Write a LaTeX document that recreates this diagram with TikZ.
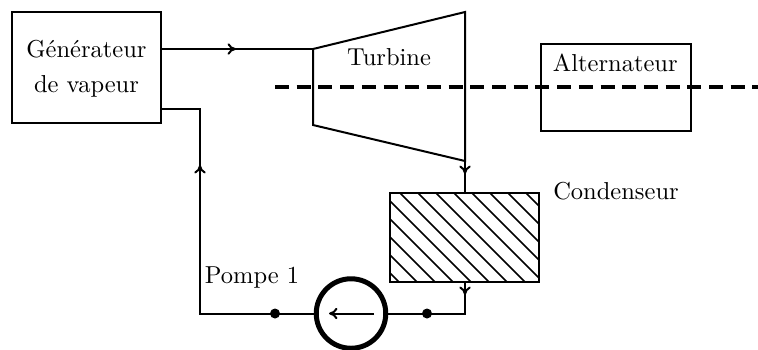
\documentclass[tikz,border=0pt]{standalone}
\usetikzlibrary{arrows.meta}
\tikzset{
  boxn/.style={draw,line width=0.8pt,inner sep=0pt,outer sep=0pt,align=center},
  pipe/.style={line width=0.8pt,line join=miter},
  tipa/.style={-{To[length=3.4pt,width=4.6pt]}},
  lbl/.style={inner sep=0pt,anchor=base,font=\fontsize{9.8}{12}\selectfont},
  dotn/.style={circle,fill=black,inner sep=0pt,minimum size=4pt}
}
\begin{document}
\begin{tikzpicture}[x=0.4pt,y=-0.4pt]
\useasboundingbox (0,0) rectangle (758,349);
% boxes
\node[boxn,minimum width=59.6pt,minimum height=44.4pt] (gen) at (86.5,67.5) {};
\node[lbl] (gent) at (86.5,57) {Générateur};
\node[lbl] (genb) at (86.5,92) {de vapeur};
\node[boxn,minimum width=60pt,minimum height=34.8pt] (alt) at (616,87.5) {};
\node[lbl] (altt) at (615.3,71.5) {Alternateur};
% turbine
\coordinate (t1) at (313,49);
\coordinate (t2) at (465,12);
\coordinate (t3) at (465,161);
\coordinate (t4) at (313,125);
\draw[pipe] (t1) -- (t2) -- (t3) -- (t4) -- cycle;
\node[lbl] (turb) at (389,65) {Turbine};
% shaft
\coordinate (s1) at (275,87);
\coordinate (s2) at (758,87);
\draw[line width=1.6pt,dash pattern=on 5.6pt off 3.08pt] (s1) -- (s2);
% condenser
\node[boxn,minimum width=59.6pt,minimum height=35.6pt] (cond) at (464.5,237.5) {};
\begin{scope}
\clip (cond.south west) rectangle (cond.north east);
\foreach \k in {-5,...,7}
  \draw[line width=0.7pt] ({207+18*\k+190},190) -- ({207+18*\k+290},290);
\end{scope}
\node[boxn,minimum width=59.6pt,minimum height=35.6pt] at (cond) {};
\node[lbl] (condt) at (616,199) {Condenseur};
% pump
\node[circle,draw,line width=2pt,outer sep=0pt,minimum size=27.8pt,inner sep=0pt] (pump) at (351,313.5) {};
\coordinate (pa) at (374,313.5);
\coordinate (pb) at (329,313.5);
\draw[line width=0.8pt,tipa] (pa) -- (pb);
\node[lbl] (pl) at (252,283) {Pompe 1};
% junctions
\node[dotn] (d1) at (427,313.5) {};
\node[dotn] (d2) at (275,313.5) {};
% pipes
\coordinate (a) at (gen.east |- t1);
\coordinate (am) at (236,49);
\draw[pipe] (a) -- (t1);
\draw[pipe,tipa] (a) -- (am);
\coordinate (cn) at (cond.north -| t3);
\coordinate (bm) at (465,174);
\draw[pipe] (t3) -- (cn);
\draw[pipe,tipa] (t3) -- (bm);
\coordinate (c) at (cond.south -| t3);
\coordinate (e) at (465,313.5);
\coordinate (cm) at (465,295);
\draw[pipe] (c) -- (e) -- (pump.east);
\draw[pipe,tipa] (c) -- (cm);
\coordinate (f) at (200,313.5);
\coordinate (g) at (200,109);
\coordinate (h) at (gen.east |- g);
\draw[pipe] (pump.west) -- (f) -- (g) -- (h);
\coordinate (fm) at (200,165);
\draw[pipe,tipa] (f) -- (fm);
\end{tikzpicture}
\end{document}
